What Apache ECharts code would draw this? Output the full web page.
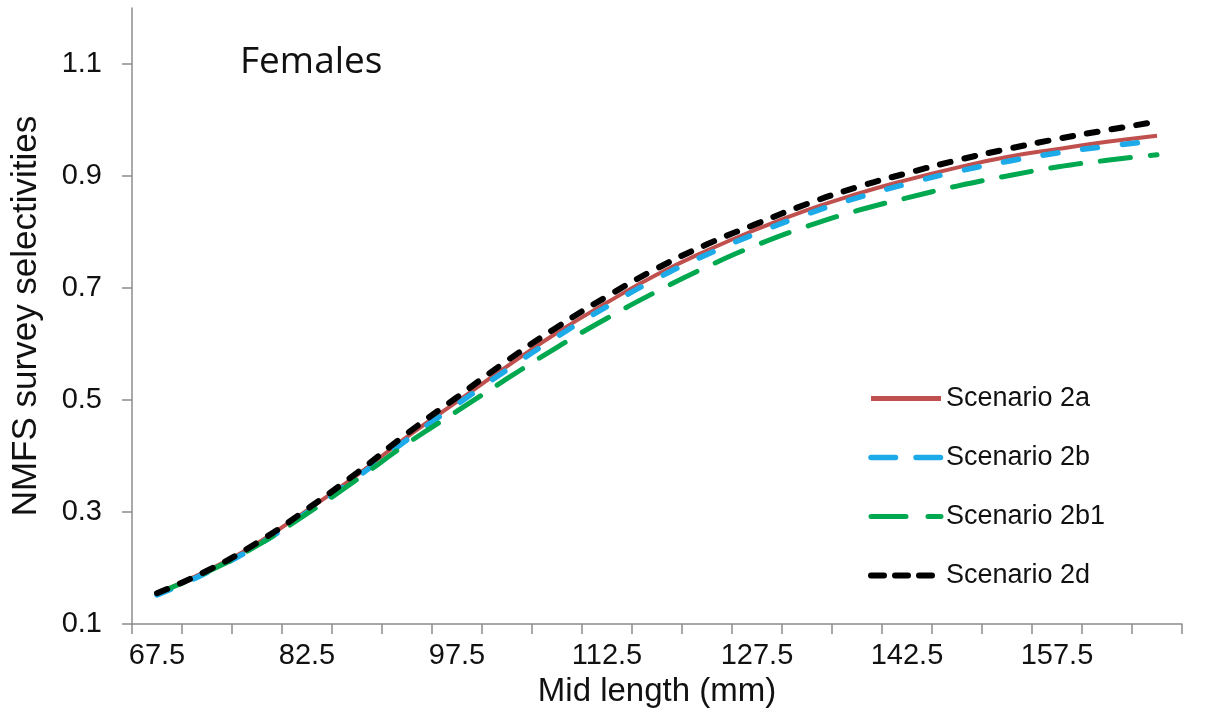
<!DOCTYPE html>
<html>
<head>
<meta charset="utf-8">
<script src="https://cdn.jsdelivr.net/npm/echarts@6/dist/echarts.min.js"></script>
<style>
html,body{margin:0;padding:0;background:#fff;}
#c{width:1210px;height:715px;}
</style>
</head>
<body>
<div id="c"></div>
<script>
var categories = ['67.5','72.5','77.5','82.5','87.5','92.5','97.5','102.5','107.5','112.5','117.5','122.5','127.5','132.5','137.5','142.5','147.5','152.5','157.5','162.5','167.5'];
var yTicks = [0.1, 0.3, 0.5, 0.7, 0.9, 1.1];
var scenario2a  = [0.155,0.195,0.244,0.303,0.366,0.434,0.497,0.560,0.620,0.674,0.724,0.767,0.805,0.839,0.868,0.893,0.915,0.934,0.948,0.961,0.972];
var scenario2b  = [0.152,0.192,0.240,0.299,0.362,0.429,0.492,0.554,0.613,0.667,0.717,0.760,0.798,0.832,0.861,0.886,0.908,0.926,0.941,0.953,0.963];
var scenario2b1 = [0.155,0.193,0.240,0.297,0.358,0.422,0.480,0.538,0.594,0.646,0.694,0.738,0.777,0.810,0.838,0.861,0.882,0.900,0.916,0.928,0.938];
var scenario2d  = [0.155,0.195,0.245,0.305,0.370,0.440,0.505,0.570,0.630,0.685,0.735,0.778,0.815,0.850,0.880,0.905,0.928,0.948,0.966,0.982,0.997];

var font = 'Liberation Sans, Arial, sans-serif';
var chart = echarts.init(document.getElementById('c'), null, {renderer:'canvas'});
chart.setOption({
  animation:false,
  backgroundColor:'#fff',
  title:{
    text:'Females', left:235, top:39,
    textStyle:{fontFamily:'Open Sans, Noto Sans, sans-serif', fontSize:37, fontWeight:'normal', color:'#111'}
  },
  grid:{left:132, top:8, right:28, bottom:91, containLabel:false},
  legend:{
    orient:'vertical', left:863, top:380, itemGap:32, itemWidth:70, itemHeight:14,
    itemStyle:{opacity:0},
    textStyle:{fontFamily:font, fontSize:27, color:'#111'},
    data:[
      {name:'Scenario 2a', lineStyle:{width:5, type:'solid', cap:'butt'}},
      {name:'Scenario 2b', lineStyle:{width:5.5, type:[24.5,20.5], cap:'round'}},
      {name:'Scenario 2b1', lineStyle:{width:5, type:[35,22], cap:'round'}},
      {name:'Scenario 2d', lineStyle:{width:6, type:[13,11], cap:'round'}}
    ]
  },
  xAxis:{
    type:'category', data:categories, boundaryGap:true,
    name:'Mid length (mm)', nameLocation:'middle', nameGap:51,
    nameTextStyle:{fontFamily:font, fontSize:33, color:'#111'},
    axisLine:{lineStyle:{color:'#8c8c8c', width:1.5}},
    axisTick:{show:true, interval:0, length:10, lineStyle:{color:'#8c8c8c', width:1.5}},
    axisLabel:{interval:2, margin:17, fontFamily:font, fontSize:29, color:'#111'},
    splitLine:{show:false}
  },
  yAxis:{
    type:'value', min:0.1, max:1.2,
    name:'NMFS survey selectivities', nameLocation:'middle', nameGap:88, nameRotate:90,
    nameTextStyle:{fontFamily:font, fontSize:35, color:'#111'},
    axisLine:{show:true, lineStyle:{color:'#8c8c8c', width:1.5}},
    axisTick:{show:true, length:10, customValues:yTicks, lineStyle:{color:'#8c8c8c', width:1.5}},
    axisLabel:{customValues:yTicks, margin:30, fontFamily:font, fontSize:29, color:'#111',
      formatter:function(v){return v.toFixed(1);}},
    splitLine:{show:false}
  },
  series:[
    {name:'Scenario 2a', type:'line', data:scenario2a, smooth:true, symbol:'none', color:'#C0504D',
      lineStyle:{color:'#C0504D', width:4, type:'solid'}},
    {name:'Scenario 2b', type:'line', data:scenario2b, smooth:true, symbol:'none', color:'#1CAAE8',
      lineStyle:{color:'#1CAAE8', width:5.5, type:[15,25], cap:'round'}},
    {name:'Scenario 2b1', type:'line', data:scenario2b1, smooth:true, symbol:'none', color:'#00A84F',
      lineStyle:{color:'#00A84F', width:5, type:[30,20], cap:'round'}},
    {name:'Scenario 2d', type:'line', data:scenario2d, smooth:true, symbol:'none', color:'#000',
      lineStyle:{color:'#000', width:6, type:[11,14], cap:'round'}}
  ]
});
</script>
</body>
</html>
